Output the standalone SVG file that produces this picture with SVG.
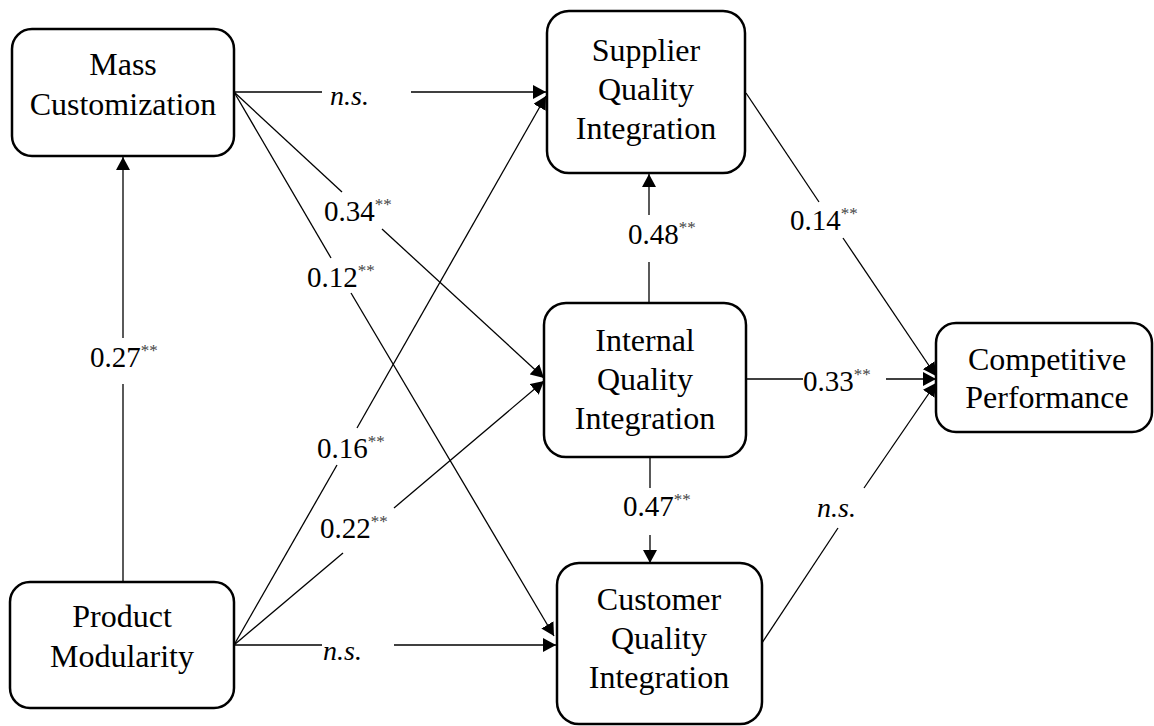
<svg xmlns="http://www.w3.org/2000/svg" width="1154" height="726" viewBox="0 0 1154 726">
<defs>
<marker id="ah" markerUnits="userSpaceOnUse" markerWidth="14" markerHeight="14" refX="13" refY="7" orient="auto" viewBox="0 0 14 14">
<path d="M0,0 L13,7 L0,14 z" fill="#000"/>
</marker>
<style>
.box{fill:#fff;stroke:#000;stroke-width:2.5}
.nt{font-family:"Liberation Serif","Times New Roman",serif;font-size:32px;fill:#000;text-anchor:middle}
.lb{font-family:"Liberation Serif","Times New Roman",serif;font-size:29px;fill:#000}
.ns{font-family:"Liberation Serif","Times New Roman",serif;font-size:28px;font-style:italic;fill:#000}
.st{font-size:17px;fill:#444}
.c{fill:none;stroke:#000;stroke-width:1.3}
.a{marker-end:url(#ah)}
</style>
</defs>
<rect width="1154" height="726" fill="#fff"/>
<g id="connectors">
<path class="c" d="M234,92 H322"/>
<path class="c a" d="M411,92 H546"/>
<path class="c" d="M234,92 L342,192"/>
<path class="c a" d="M382,229 L544,378"/>
<path class="c" d="M234,92 L331,258"/>
<path class="c a" d="M351,293 L554,636"/>
<path class="c" d="M123,582 V384"/>
<path class="c a" d="M123,338 V157"/>
<path class="c" d="M234,645 L337,465"/>
<path class="c a" d="M357,428 L546,96"/>
<path class="c" d="M234,645 L343,553"/>
<path class="c a" d="M394,508 L544,381"/>
<path class="c" d="M234,645 H322"/>
<path class="c a" d="M394,645 H556"/>
<path class="c" d="M649,303 V262"/>
<path class="c a" d="M649,215 V174"/>
<path class="c" d="M650,457 V488"/>
<path class="c a" d="M650,535 V563"/>
<path class="c" d="M746,93 L819,202"/>
<path class="c a" d="M843,238 L936,376"/>
<path class="c" d="M746,379 H803"/>
<path class="c a" d="M886,379 H936"/>
<path class="c" d="M762,643 L838,528"/>
<path class="c a" d="M864,488 L936,383"/>
</g>
<g id="labels">
<text class="ns" x="330" y="105">n.s.</text>
<text class="ns" x="323" y="660">n.s.</text>
<text class="ns" x="817" y="517">n.s.</text>
<text class="lb" x="324" y="221">0.34<tspan class="st" dy="-11">**</tspan></text>
<text class="lb" x="307" y="287">0.12<tspan class="st" dy="-11">**</tspan></text>
<text class="lb" x="317" y="458">0.16<tspan class="st" dy="-11">**</tspan></text>
<text class="lb" x="320" y="538">0.22<tspan class="st" dy="-11">**</tspan></text>
<text class="lb" x="90" y="367">0.27<tspan class="st" dy="-11">**</tspan></text>
<text class="lb" x="628" y="244">0.48<tspan class="st" dy="-11">**</tspan></text>
<text class="lb" x="623" y="516">0.47<tspan class="st" dy="-11">**</tspan></text>
<text class="lb" x="790" y="230">0.14<tspan class="st" dy="-11">**</tspan></text>
<text class="lb" x="803" y="391">0.33<tspan class="st" dy="-11">**</tspan></text>
</g>
<g id="mass-customization">
<rect class="box" x="12" y="29" width="222" height="127" rx="20"/>
<text class="nt" x="123" y="75">Mass</text>
<text class="nt" x="123" y="115">Customization</text>
</g>
<g id="product-modularity">
<rect class="box" x="10" y="582" width="224" height="126" rx="20"/>
<text class="nt" x="122" y="627">Product</text>
<text class="nt" x="122" y="667">Modularity</text>
</g>
<g id="supplier-qi">
<rect class="box" x="547" y="11" width="198" height="162" rx="22"/>
<text class="nt" x="646" y="61">Supplier</text>
<text class="nt" x="646" y="100">Quality</text>
<text class="nt" x="646" y="139">Integration</text>
</g>
<g id="internal-qi">
<rect class="box" x="544" y="303" width="202" height="154" rx="22"/>
<text class="nt" x="645" y="351">Internal</text>
<text class="nt" x="645" y="390">Quality</text>
<text class="nt" x="645" y="429">Integration</text>
</g>
<g id="customer-qi">
<rect class="box" x="557" y="563" width="205" height="161" rx="22"/>
<text class="nt" x="659" y="610">Customer</text>
<text class="nt" x="659" y="649">Quality</text>
<text class="nt" x="659" y="688">Integration</text>
</g>
<g id="competitive-performance">
<rect class="box" x="936" y="323" width="216" height="109" rx="20"/>
<text class="nt" x="1047" y="370">Competitive</text>
<text class="nt" x="1047" y="408">Performance</text>
</g>
</svg>
